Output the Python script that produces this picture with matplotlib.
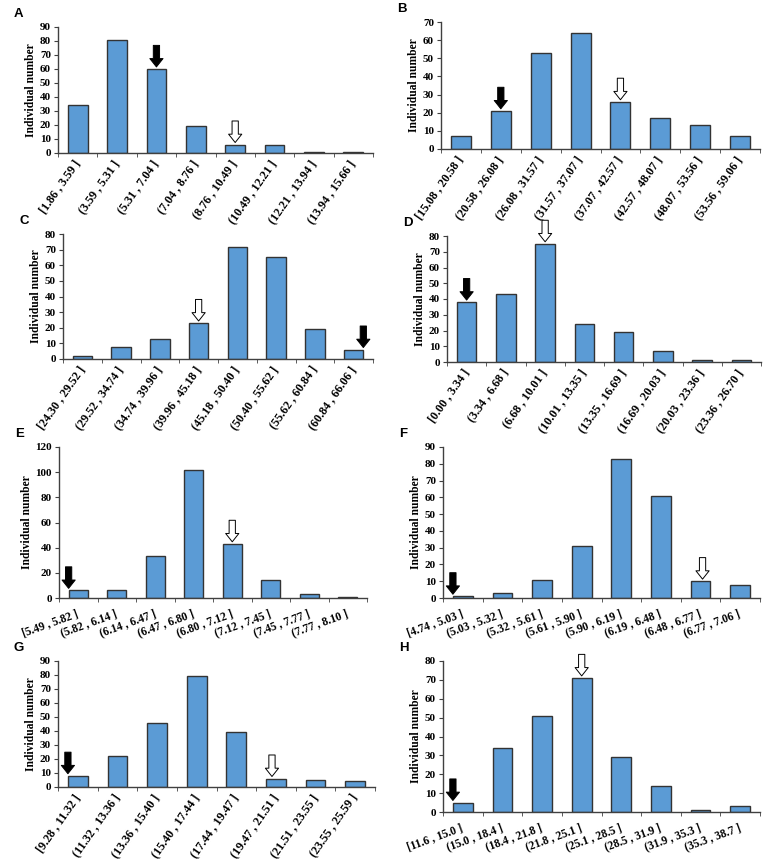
import matplotlib
matplotlib.use("Agg")
import matplotlib.pyplot as plt
import numpy as np

# class intervals and counts for each panel
labels_a = ["[1.86 , 3.59 ]", "(3.59 , 5.31 ]", "(5.31 , 7.04 ]", "(7.04 , 8.76 ]",
            "(8.76 , 10.49 ]", "(10.49 , 12.21 ]", "(12.21 , 13.94 ]", "(13.94 , 15.66 ]"]
counts_a = [34, 81, 60, 19, 6, 6, 1, 1]

labels_b = ["[15.08 , 20.58 ]", "(20.58 , 26.08 ]", "(26.08 , 31.57 ]", "(31.57 , 37.07 ]",
            "(37.07 , 42.57 ]", "(42.57 , 48.07 ]", "(48.07 , 53.56 ]", "(53.56 , 59.06 ]"]
counts_b = [7, 21, 53, 64, 26, 17, 13, 7]

labels_c = ["[24.30 , 29.52 ]", "(29.52 , 34.74 ]", "(34.74 , 39.96 ]", "(39.96 , 45.18 ]",
            "(45.18 , 50.40 ]", "(50.40 , 55.62 ]", "(55.62 , 60.84 ]", "(60.84 , 66.06 ]"]
counts_c = [2, 8, 13, 23, 72, 65, 19, 6]

labels_d = ["[0.00 , 3.34 ]", "(3.34 , 6.68 ]", "(6.68 , 10.01 ]", "(10.01 , 13.35 ]",
            "(13.35 , 16.69 ]", "(16.69 , 20.03 ]", "(20.03 , 23.36 ]", "(23.36 , 26.70 ]"]
counts_d = [38, 43, 75, 24, 19, 7, 1, 1]

labels_e = ["[5.49 , 5.82 ]", "(5.82 , 6.14 ]", "(6.14 , 6.47 ]", "(6.47 , 6.80 ]",
            "(6.80 , 7.12 ]", "(7.12 , 7.45 ]", "(7.45 , 7.77 ]", "(7.77 , 8.10 ]"]
counts_e = [6, 6, 33, 102, 43, 14, 3, 1]

labels_f = ["[4.74 , 5.03 ]", "(5.03 , 5.32 ]", "(5.32 , 5.61 ]", "(5.61 , 5.90 ]",
            "(5.90 , 6.19 ]", "(6.19 , 6.48 ]", "(6.48 , 6.77 ]", "(6.77 , 7.06 ]"]
counts_f = [1, 3, 11, 31, 83, 61, 10, 8]

labels_g = ["[9.28 , 11.32 ]", "(11.32 , 13.36 ]", "(13.36 , 15.40 ]", "(15.40 , 17.44 ]",
            "(17.44 , 19.47 ]", "(19.47 , 21.51 ]", "(21.51 , 23.55 ]", "(23.55 , 25.59 ]"]
counts_g = [8, 22, 46, 79, 39, 6, 5, 4]

labels_h = ["[11.6 , 15.0 ]", "(15.0 , 18.4 ]", "(18.4 , 21.8 ]", "(21.8 , 25.1 ]",
            "(25.1 , 28.5 ]", "(28.5 , 31.9 ]", "(31.9 , 35.3 ]", "(35.3 , 38.7 ]"]
counts_h = [5, 34, 51, 71, 29, 14, 1, 3]

# which bar carries the black / white arrow
black_arrow = {"A": 2, "B": 1, "C": 7, "D": 0, "E": 0, "F": 0, "G": 0, "H": 0}
white_arrow = {"A": 4, "B": 4, "C": 3, "D": 2, "E": 4, "F": 6, "G": 5, "H": 3}

panels = [
    # name, labels, counts, ymax, ystep, box (l, r, t, b px), rot, black dx, white dx
    ("A", labels_a, counts_a, 90, 10, (58, 373, 27, 153), 55, 0.0, 0.0),
    ("B", labels_b, counts_b, 70, 10, (441, 760, 22, 149), 55, 0.0, 0.0),
    ("C", labels_c, counts_c, 80, 10, (63, 373, 234, 359), 55, 0.25, 0.0),
    ("D", labels_d, counts_d, 80, 10, (447, 761, 236, 362), 55, 0.0, 0.0),
    ("E", labels_e, counts_e, 120, 20, (59, 367, 447, 598), 20, -0.25, 0.0),
    ("F", labels_f, counts_f, 90, 10, (443, 760, 447, 598), 20, -0.25, 0.05),
    ("G", labels_g, counts_g, 90, 10, (58, 375, 661, 787), 55, -0.25, -0.1),
    ("H", labels_h, counts_h, 80, 10, (443, 760, 661, 812), 20, -0.25, 0.0),
]

W, H = 767, 861
fig = plt.figure(figsize=(W / 100, H / 100), dpi=100)
serif = "Liberation Serif"
bar_color = "#5b9bd5"
axis_color = "#404040"

for name, labels, counts, ymax, ystep, (l, r, t, b), rot, bdx, wdx in panels:
    ax = fig.add_axes([l / W, 1 - b / H, (r - l) / W, (b - t) / H])
    x = np.arange(len(counts))
    ax.bar(x, counts, width=0.5, color=bar_color, edgecolor="#333333", linewidth=1.0)
    ax.set_xlim(-0.5, len(counts) - 0.5)
    ax.set_ylim(0, ymax)
    ax.set_yticks(np.arange(0, ymax + 1, ystep))
    ax.set_xticks(x)
    ax.set_xticks(np.arange(-0.5, len(counts)), minor=True)
    steep = rot > 40
    ax.tick_params(axis="x", which="major", length=0, pad=6 if steep else 11)
    ax.tick_params(axis="x", which="minor", length=3, color=axis_color, direction="out")
    ax.tick_params(axis="y", length=3, color=axis_color, direction="out", pad=2)
    ax.set_xticklabels(labels, rotation=rot, ha="right", va="center",
                       rotation_mode="anchor", fontfamily=serif,
                       fontweight="bold", fontsize=8.7 if steep else 8.3)
    for lab in ax.get_yticklabels():
        lab.set_fontfamily(serif)
        lab.set_fontweight("bold")
        lab.set_fontsize(8)
    ax.set_ylabel("Individual number", fontfamily=serif, fontweight="bold",
                  fontsize=8.3, labelpad=2)
    for s in ["top", "right"]:
        ax.spines[s].set_visible(False)
    for s in ["left", "bottom"]:
        ax.spines[s].set_color(axis_color)
        ax.spines[s].set_linewidth(1.0)

    for idx, dx, fc in [(black_arrow[name], bdx, "black"), (white_arrow[name], wdx, "white")]:
        ax.annotate("", xy=(idx + dx, counts[idx]), xytext=(0, 17),
                    textcoords="offset points", annotation_clip=False,
                    arrowprops=dict(arrowstyle="simple,head_length=6,head_width=9.5,tail_width=4.5",
                                    mutation_scale=1, fc=fc, ec="black", lw=0.7,
                                    shrinkA=0, shrinkB=1.5))

    fig.text((l - 44) / W, 1 - (t - 13) / H, name, fontfamily="Liberation Sans",
             fontweight="bold", fontsize=9.5, ha="left", va="center")

fig.savefig("out.png", dpi=100)
